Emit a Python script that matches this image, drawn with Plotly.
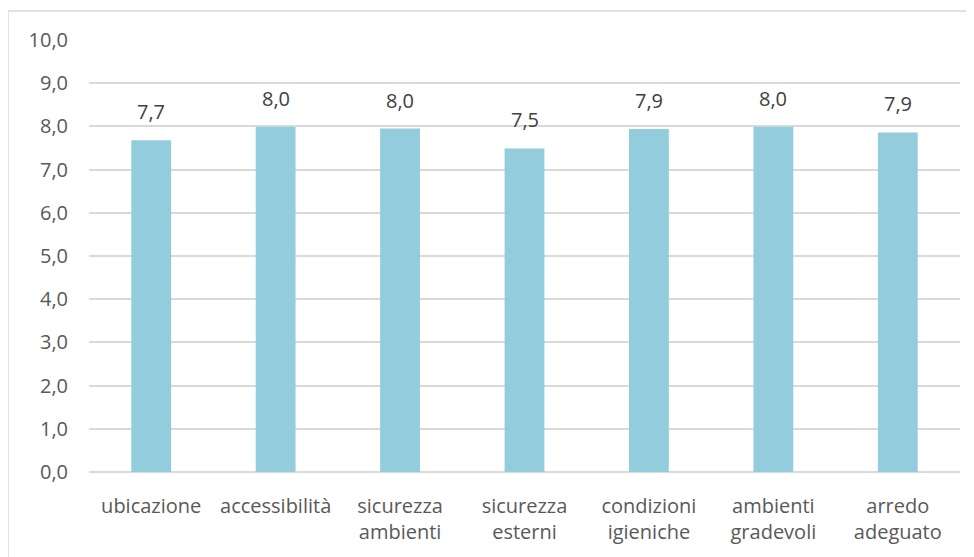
import plotly.graph_objects as go

categories = ["ubicazione", "accessibilità", "sicurezza<br>ambienti", "sicurezza<br>esterni",
              "condizioni<br>igieniche", "ambienti<br>gradevoli", "arredo<br>adeguato"]
values = [7.68, 7.99, 7.95, 7.49, 7.94, 7.99, 7.86]
y_ticks = [0, 1, 2, 3, 4, 5, 6, 7, 8, 9, 10]

# page has 8px body margin; figure sized to fit the window
W, H = 966, 549
ml, mr, mt, mb = 81, 14, 32, 85
pw = W - ml - mr
ph = H - mt - mb

fig = go.Figure(go.Bar(
    x=categories, y=values,
    marker=dict(color="#93CDDD", line=dict(width=0)),
    width=0.32,
    hoverinfo="x+y",
))

for c, v in zip(categories, values):
    fig.add_annotation(x=c, y=v, text=f"{v:.1f}".replace(".", ","), showarrow=False,
                       yanchor="bottom", yshift=13,
                       font=dict(family="Open Sans", size=20, color="#404040"))

fig.update_layout(
    width=W, height=H,
    margin=dict(l=ml, r=mr, t=mt, b=mb),
    paper_bgcolor="white", plot_bgcolor="white",
    separators=",.",
    showlegend=False,
    font=dict(family="Open Sans", size=20, color="#595959"),
    xaxis=dict(showgrid=False, showline=False, ticks="", ticklabelstandoff=20,
               tickfont=dict(size=20, color="#595959")),
    yaxis=dict(range=[0, 10], tickvals=y_ticks, tickformat=".1f", showgrid=True,
               gridcolor="#D9D9D9", gridwidth=1.5, zeroline=True, zerolinecolor="#D9D9D9",
               zerolinewidth=1.5, showline=False, ticks="", ticklabelstandoff=20,
               tickfont=dict(size=20, color="#595959")),
    shapes=[dict(type="rect", xref="paper", yref="paper",
                 x0=(0 - ml) / pw, x1=(961 - ml) / pw,
                 y0=-(mb + 20) / ph, y1=(H - mb - 3) / ph,
                 line=dict(color="#D9D9D9", width=1.5), fillcolor="rgba(0,0,0,0)", layer="below")],
)

fig.write_html("out.html")
